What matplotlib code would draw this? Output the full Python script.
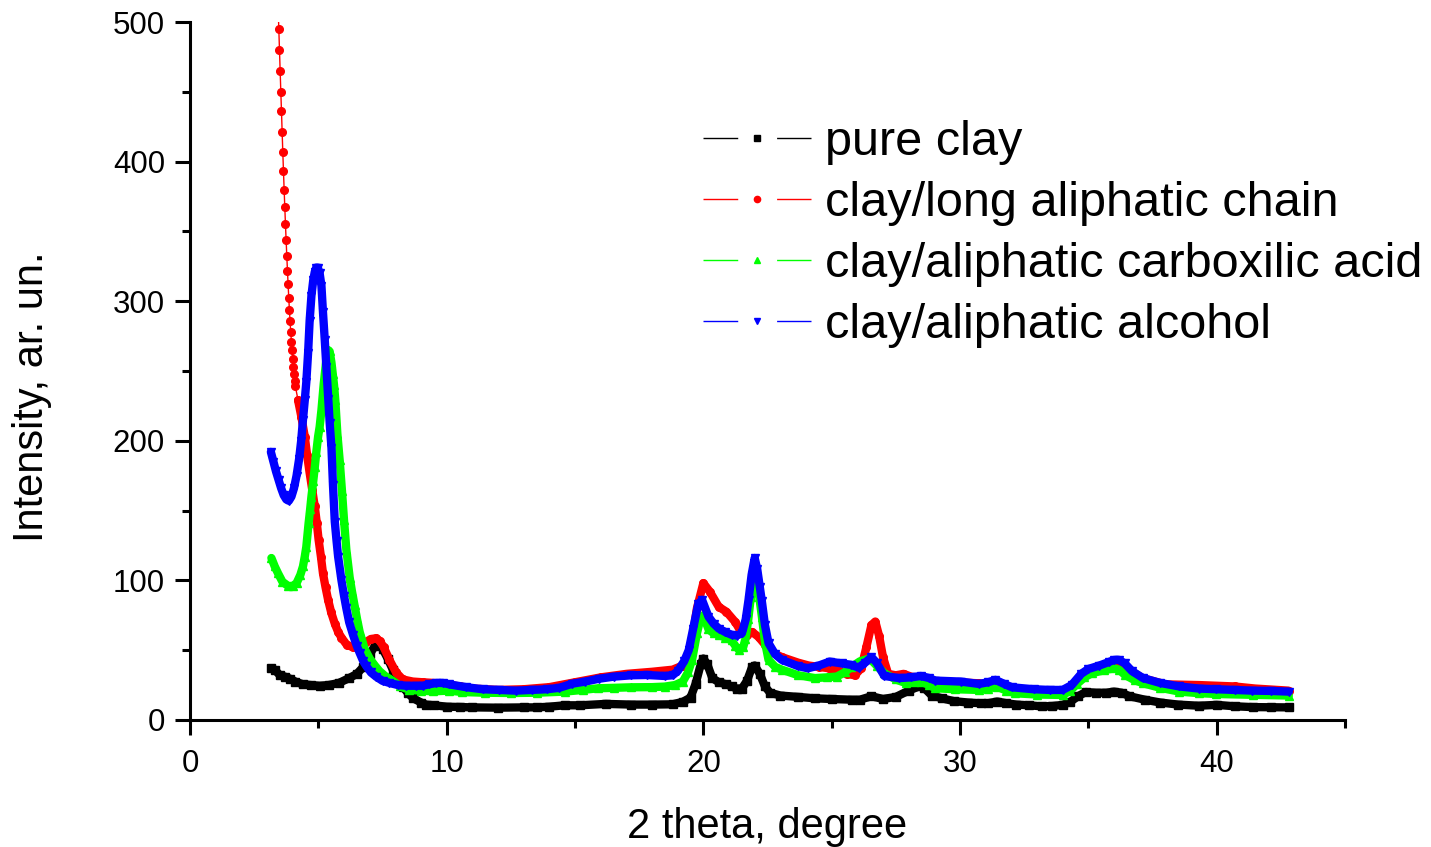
import numpy as np
import matplotlib.pyplot as plt
from matplotlib.lines import Line2D
from matplotlib.ticker import MultipleLocator

plt.rcParams['font.family'] = ['Liberation Sans', 'DejaVu Sans']

# (2 theta, intensity)
pure_clay = [
    (3.17, 37), (3.3, 36), (3.5, 32), (3.7, 31), (3.9, 29.5), (4.1, 27.5), (4.4, 25.5),
    (4.7, 25), (5.05, 24.5), (5.4, 25), (5.8, 26.5), (6.2, 30), (6.5, 33), (6.75, 38),
    (7.0, 47), (7.2, 53), (7.35, 54), (7.5, 51), (7.7, 44), (7.9, 36), (8.1, 29),
    (8.3, 23.5), (8.5, 19), (8.7, 15.5), (9.0, 12.5), (9.2, 11), (9.5, 10.5), (10.0, 9.5),
    (10.5, 9.3), (11, 9.0), (12, 8.8), (13, 9.0), (13.5, 9.0), (14, 9.5), (14.6, 10.5),
    (15.2, 10.5), (16.2, 11.5), (17.2, 11.0), (18, 11.0), (18.8, 11.2), (19.2, 13),
    (19.5, 16), (19.7, 26), (19.9, 40), (20.0, 44), (20.15, 40), (20.35, 30), (20.6, 27),
    (20.9, 25.5), (21.1, 24), (21.3, 22.5), (21.5, 22.5), (21.7, 28), (21.9, 38),
    (22.0, 39), (22.2, 33), (22.4, 24), (22.6, 19.5), (23.0, 17.5), (23.7, 16.5),
    (24.35, 15.5), (25.0, 15), (25.8, 14.5), (26.1, 14.5), (26.55, 17), (27.0, 15),
    (27.5, 16.5), (28.0, 21), (28.4, 24), (28.6, 23), (28.9, 17.5), (29.3, 15.5),
    (29.75, 13.5), (30.3, 12.5), (30.8, 12), (31.1, 12), (31.45, 13.2), (31.8, 12),
    (32.2, 11), (32.7, 10.5), (33.2, 9.7), (33.6, 10), (34.0, 10.8), (34.3, 13),
    (34.6, 17), (34.9, 20), (35.3, 19.5), (35.7, 19.5), (36.0, 20.3), (36.3, 19.5),
    (36.6, 17), (37.2, 14.5), (37.8, 12.5), (38.5, 11), (39.3, 10.2), (40.0, 10.8),
    (40.7, 9.8), (41.4, 9.2), (42.1, 9.1), (42.8, 9.0),
]

long_chain = [
    (3.433, 510), (3.459, 495), (3.485, 480), (3.511, 465), (3.537, 450), (3.563, 436),
    (3.589, 421), (3.614, 407), (3.64, 393.5), (3.666, 380), (3.692, 367.5), (3.718, 355),
    (3.744, 343.6), (3.77, 332.4), (3.796, 321.9), (3.821, 312), (3.847, 302.5),
    (3.872, 293.5), (3.898, 285.6), (3.924, 278), (3.95, 271), (3.975, 265), (4.0, 258.6),
    (4.026, 253), (4.052, 248), (4.078, 243), (4.103, 239),
    (4.21, 229), (4.34, 217), (4.47, 203), (4.56, 190), (4.66, 177), (4.76, 165),
    (4.86, 153), (4.94, 141), (5.01, 129), (5.1, 117), (5.18, 105), (5.28, 95), (5.38, 86),
    (5.5, 77), (5.64, 69), (5.77, 63), (5.9, 59), (6.1, 54), (6.35, 52), (6.6, 52.5),
    (6.87, 56), (7.05, 58), (7.25, 58.5), (7.4, 56.5), (7.55, 52), (7.77, 43), (8.03, 34),
    (8.29, 29), (8.68, 27.5), (9.07, 27), (9.5, 26.5), (10.0, 25.5), (10.5, 24), (11, 22.5),
    (12, 21.5), (13, 22), (14, 23.5), (15, 27), (16, 30.5), (17, 33), (18, 34.5),
    (18.8, 36), (19.2, 39), (19.5, 50), (19.75, 80), (20.0, 98), (20.25, 92), (20.6, 81),
    (20.9, 77.5), (21.25, 70), (21.5, 62), (21.7, 61), (21.9, 63), (22.15, 59.5),
    (22.4, 54), (22.6, 49), (23.06, 45), (23.7, 41), (24.1, 39), (24.5, 38), (24.9, 37),
    (25.3, 35), (25.6, 33), (25.9, 32), (26.15, 37), (26.35, 52), (26.55, 68),
    (26.7, 70.5), (26.85, 60), (27.0, 45), (27.2, 33), (27.5, 32), (27.8, 33), (28.1, 31),
    (28.5, 30), (29.0, 28), (29.8, 27), (30.7, 26.3), (31.1, 25.5), (31.45, 24), (31.8, 22),
    (32.2, 20.5), (33.0, 20.2), (34.0, 20.3), (34.4, 25), (34.8, 32), (35.2, 36.5),
    (35.6, 38.5), (36.1, 39.5), (36.5, 37), (37.1, 30), (38, 25.5), (39.3, 25), (40, 24.5),
    (40.7, 24), (41.5, 22.5), (42.8, 21),
]

carboxylic_acid = [
    (3.17, 116), (3.3, 110), (3.43, 105), (3.6, 99), (3.82, 96), (4.0, 96), (4.15, 98),
    (4.3, 104), (4.4, 110), (4.47, 117), (4.53, 124), (4.62, 141), (4.68, 151), (4.73, 160),
    (4.8, 171), (4.86, 181), (4.92, 192), (4.99, 203), (5.05, 210), (5.12, 222), (5.21, 241),
    (5.31, 258), (5.38, 265), (5.44, 264), (5.51, 256), (5.56, 248), (5.61, 240),
    (5.66, 229), (5.74, 205), (5.83, 186), (5.92, 164), (6.0, 143), (6.09, 122), (6.22, 102),
    (6.31, 92), (6.41, 82), (6.51, 72), (6.61, 63), (6.8, 51), (7.0, 44), (7.2, 39),
    (7.38, 35), (7.6, 31.5), (7.9, 28), (8.2, 24), (8.55, 21.5), (9.0, 21), (9.46, 20.5),
    (10.1, 21), (10.6, 20), (11.5, 19.5), (12.5, 19.3), (13.5, 19.5), (14.6, 20.3),
    (15.3, 21.5), (15.9, 22.7), (16.5, 23), (17.2, 23.4), (18.0, 23.5), (18.5, 23.9),
    (18.9, 25), (19.2, 27.5), (19.4, 34), (19.56, 43), (19.75, 62), (19.89, 73), (20.0, 75),
    (20.2, 65), (20.4, 62), (20.6, 61), (20.85, 59), (21.1, 57), (21.25, 53), (21.4, 50),
    (21.55, 52), (21.64, 58), (21.75, 72), (21.85, 88), (21.96, 101), (22.05, 103),
    (22.15, 92), (22.28, 74), (22.4, 56), (22.54, 43), (22.8, 38), (23.06, 36), (23.7, 32),
    (24.35, 30), (24.8, 30.5), (25.2, 31.1), (25.5, 34), (25.77, 38), (26.1, 42),
    (26.48, 44), (26.75, 39), (27.05, 33.5), (27.5, 29), (27.9, 26.3), (28.2, 27),
    (28.47, 27.5), (28.8, 25), (29.04, 22.7), (29.8, 22), (30.74, 21.5), (31.1, 22.5),
    (31.45, 23.9), (31.8, 21), (32.16, 19.1), (33.0, 18.2), (34.0, 17.9), (34.3, 21),
    (34.57, 26), (34.85, 30.5), (35.14, 33.5), (35.6, 35.5), (36.0, 37), (36.2, 36),
    (36.42, 32.3), (36.8, 28.5), (37.13, 26.3), (37.8, 23), (38.55, 20.3), (39.3, 19.2),
    (39.97, 18.6), (41.4, 18), (42.81, 17.5),
]

alcohol = [
    (3.15, 192), (3.25, 185), (3.35, 178), (3.45, 172), (3.55, 166), (3.65, 161),
    (3.75, 158), (3.85, 157), (3.95, 160), (4.05, 166), (4.15, 175), (4.25, 187),
    (4.33, 200), (4.4, 215), (4.47, 229), (4.53, 242), (4.6, 263), (4.66, 286), (4.73, 304),
    (4.8, 315), (4.86, 321), (4.92, 324), (4.98, 324), (5.05, 320), (5.12, 311),
    (5.18, 292), (5.25, 272), (5.31, 253), (5.38, 230), (5.44, 213), (5.51, 195),
    (5.57, 168), (5.64, 142), (5.71, 128), (5.77, 117), (5.9, 100), (6.0, 89), (6.09, 80),
    (6.2, 70), (6.35, 61), (6.5, 53), (6.61, 48), (6.75, 42), (6.87, 38.5), (7.05, 34),
    (7.25, 31), (7.5, 28), (7.77, 26.5), (8.1, 25), (8.42, 24.5), (8.8, 24.5), (9.07, 24.5),
    (9.3, 25.5), (9.6, 26.5), (9.85, 26.5), (10.1, 25.5), (10.75, 23.5), (11.4, 22),
    (12.05, 21.5), (12.7, 21), (13.34, 21.5), (13.9, 22), (14.38, 23), (14.9, 26),
    (15.4, 27.5), (15.93, 29.5), (16.5, 31), (17.2, 32), (17.8, 32.2), (18.5, 31.5),
    (18.8, 32), (19.0, 35), (19.25, 42), (19.43, 50), (19.6, 65), (19.8, 83), (19.95, 86),
    (20.2, 74), (20.4, 69), (20.6, 65.5), (20.85, 63), (21.1, 61), (21.3, 60.5), (21.5, 62),
    (21.65, 72), (21.76, 86), (21.88, 104), (22.0, 116), (22.1, 108), (22.2, 95),
    (22.28, 85), (22.4, 68), (22.54, 55), (22.8, 47), (23.06, 43), (23.7, 38.5),
    (24.07, 37), (24.5, 39), (24.92, 41.8), (25.4, 40.5), (25.77, 39.4), (26.05, 37.5),
    (26.3, 41), (26.55, 45), (26.75, 41), (27.05, 31.5), (27.62, 30), (28.1, 30.5),
    (28.47, 31.5), (28.8, 30), (29.04, 28.2), (30.03, 27.5), (30.74, 25.8), (31.1, 27),
    (31.38, 28.7), (31.7, 26), (32.02, 23.4), (32.87, 22), (33.5, 21.5), (34.0, 21.5),
    (34.35, 25), (34.72, 33), (35.0, 36.5), (35.43, 39), (35.8, 41.5), (36.0, 43),
    (36.2, 43), (36.42, 40.5), (36.7, 35), (37.13, 30), (37.8, 26.5), (38.55, 24),
    (39.3, 22.5), (39.97, 22), (40.7, 21.5), (41.39, 21), (42.1, 20.8), (42.81, 20.3),
]

series = [
    ('pure clay', pure_clay, 'black', 's'),
    ('clay/long aliphatic chain', long_chain, '#ff0000', 'o'),
    ('clay/aliphatic carboxilic acid', carboxylic_acid, '#00ff00', '^'),
    ('clay/aliphatic alcohol', alcohol, '#0000ff', 'v'),
]

fig = plt.figure(figsize=(14.31, 8.47), dpi=100)
ax = fig.add_axes([0.1328, 0.15, 0.8071, 0.824])

handles = []
for label, data, color, marker in series:
    x, y = np.array(data).T
    # dense scan points merge into a thick band, except on the very steep red edge
    band = x > 4.15 if marker == 'o' else np.ones_like(x, dtype=bool)
    ax.plot(x[band], y[band], color=color, lw=6, solid_capstyle='round',
            solid_joinstyle='round')
    ax.plot(x, y, color=color, lw=1, marker=marker, ms=5.5, mec=color)
    handles.append(Line2D([], [], color=color, lw=1, ls=(0, (25, 28)),
                          marker=marker, ms=4.5, mec=color))

ax.set_xlim(0, 45)
ax.set_ylim(0, 500)
ax.xaxis.set_major_locator(MultipleLocator(10))
ax.xaxis.set_minor_locator(MultipleLocator(5))
ax.yaxis.set_major_locator(MultipleLocator(100))
ax.yaxis.set_minor_locator(MultipleLocator(50))

for side in ('top', 'right'):
    ax.spines[side].set_visible(False)
for side in ('left', 'bottom'):
    ax.spines[side].set_linewidth(2.2)

ax.tick_params(which='major', direction='out', length=11, width=2.2, labelsize=22.5)
ax.tick_params(which='minor', direction='out', length=6, width=2.2)
ax.tick_params(axis='x', which='major', pad=10)
ax.tick_params(axis='y', which='major', pad=7)

ax.set_xlabel('2 theta, degree', fontsize=30, labelpad=20)
ax.set_ylabel('Intensity, ar. un.', fontsize=30)
ax.yaxis.set_label_coords(-0.1195, 0.4628)

fig.legend(handles, [s[0] for s in series], loc='upper left',
           bbox_to_anchor=(703 / 1431, 1 - 120 / 847), bbox_transform=fig.transFigure,
           frameon=False, fontsize=35, numpoints=1, handlelength=2.23,
           handletextpad=0.27, labelspacing=0.33, borderpad=0, borderaxespad=0)

fig.savefig('out.png', dpi=100)
